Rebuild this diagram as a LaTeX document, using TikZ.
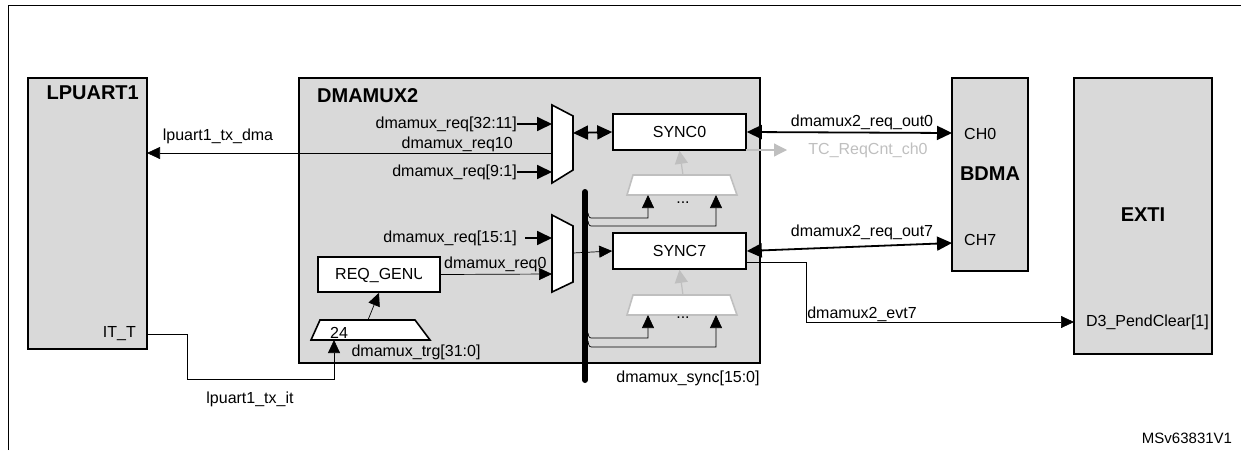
\documentclass[tikz,border=0pt]{standalone}
\usepackage{fontspec}
\setmainfont{Liberation Sans}
\usetikzlibrary{arrows.meta}
\definecolor{blk}{HTML}{D9D9D9}
\definecolor{gr}{HTML}{BFBFBF}
\begin{document}
\begin{tikzpicture}[x=1pt,y=-1pt,
 box/.style={draw,line width=2pt,fill=blk},
 wbox/.style={draw,line width=1.6pt,fill=white,font=\fontsize{16}{18}\selectfont},
 lbl/.style={font=\fontsize{16}{18}\selectfont,inner sep=0pt},
 ttl/.style={font=\fontsize{20}{22}\selectfont\bfseries,inner sep=0pt},
 sig/.style={line width=0.7pt,-{Triangle[length=13pt,width=12pt]}},
 bsig/.style={line width=1.8pt,{Triangle[length=15pt,width=14pt]}-{Triangle[length=15pt,width=14pt]}},
 isig/.style={line width=1.8pt,-{Triangle[length=15pt,width=14pt]}},
 gsig/.style={gr,line width=1.2pt,-{Triangle[length=13pt,width=13pt]}},
 mux/.style={draw,line width=1.6pt,fill=white},
 gmux/.style={draw=gr,line width=1.6pt,fill=white}]
\useasboundingbox (0,0) rectangle (1241,450);
\draw[line width=1pt] (8,450) -- (8,5) -- (1241,5);
% blocks
\draw[box] (28,78) rectangle (147,349);
\node[ttl,anchor=north east] at (139,86) {LPUART1};
\node[lbl,anchor=base east] (itt) at (136,337) {IT\_T};
\coordinate (ittp) at (147,334);
\draw[box] (299,78) rectangle (760,363);
\node[ttl,anchor=north west] at (317,88) {DMAMUX2};
\draw[box] (952,78) rectangle (1028,271);
\node[ttl] at (990,174) {BDMA};
\node[lbl,anchor=west] at (964,134) {CH0};
\node[lbl,anchor=west] at (964,240) {CH7};
\draw[box] (1074,78) rectangle (1212,354);
\node[ttl] at (1143,215) {EXTI};
\node[lbl,anchor=east] at (1209,322) {D3\_PendClear[1]};
% muxes
\draw[mux] (552,105) -- (573,116) -- (573,170) -- (552,183) -- cycle;
\draw[mux] (552,215) -- (573,226) -- (573,282) -- (552,292) -- cycle;
\node[wbox,minimum width=133pt,minimum height=36pt] (s0) at (679.5,132) {SYNC0};
\node[wbox,minimum width=133pt,minimum height=36pt] (s7) at (679.5,251) {SYNC7};
\node[wbox,minimum width=122pt,minimum height=35pt] (rg) at (379,274.5) {};
\begin{scope}
\clip (320,258) rectangle (421,291);
\node[lbl,anchor=west] at (335,275) {REQ\_GENU};
\end{scope}
% trigger mux
\draw[mux] (311,340) -- (320,320) -- (415,320) -- (430,340) -- cycle;
\node[lbl,anchor=west] at (330,333) {24};
\draw[sig] (368,320) -- (rg.south);
% grey sync muxes
\draw[gmux] (633,175) -- (730,175) -- (737,195) -- (627,195) -- cycle;
\draw[gmux] (633,295) -- (730,295) -- (737,315) -- (627,315) -- cycle;
\node[lbl] at (683,203) {...};
\node[lbl] at (683,318) {...};
\draw[gsig] (683,175) -- (s0.south);
\draw[gsig] (683,295) -- (s7.south);
% bus
\draw[line width=6pt,line cap=round] (585,192) -- (585,380);
\foreach \ya/\yb/\xx/\yt in {213/218/648/195,221/226/716/195,333/338/648/315,341/347/716/315}{
  \draw[sig] (588,\ya) .. controls (589,\yb) .. (594,\yb) -- (\xx,\yb) -- (\xx,\yt);}
% inputs
\node[lbl,anchor=east] (r1) at (517,124) {dmamux\_req[32:11]};
\draw[isig] (r1.east) -- (552,124);
\node[lbl,anchor=east] (r3) at (517,172) {dmamux\_req[9:1]};
\draw[isig] (r3.east) -- (552,172);
\node[lbl,anchor=base east] at (513,148) {dmamux\_req10};
\node[lbl,anchor=east] (r4) at (517,238) {dmamux\_req[15:1]};
\draw[isig] (525,238) -- (552,238);
\draw[sig] (rg.east) -- (552,274);
\node[lbl,anchor=base west] at (444,268) {dmamux\_req0};
\draw[sig] (552,153) -- (147,153);
\node[lbl] at (218,136) {lpuart1\_tx\_dma};
\draw[bsig] (573,133) -- (s0.west);
\draw[sig] (573,253) -- (s7.west);
% outputs
\draw[bsig] (s0.east) -- (952,133);
\node[lbl,anchor=base] at (862,126) {dmamux2\_req\_out0};
\draw[gsig] (746,150) -- (787,150);
\node[lbl,text=gr] at (868,150) {TC\_ReqCnt\_ch0};
\draw[bsig] (s7.east) -- (952,243);
\node[lbl,anchor=base] at (862,236) {dmamux2\_req\_out7};
\draw[sig] (746,262) -- (806,262) -- (806,322) -- (1074,322);
\node[lbl,anchor=base] at (862,318) {dmamux2\_evt7};
\draw[sig] (ittp) -- (187,334) -- (187,379) -- (334,379) -- (334,340);
\node[lbl] at (250,399) {lpuart1\_tx\_it};
\node[lbl] at (416,352) {dmamux\_trg[31:0]};
\node[lbl] at (688,378) {dmamux\_sync[15:0]};
\node[lbl,font=\fontsize{15}{17}\selectfont] at (1187,438) {MSv63831V1};
\end{tikzpicture}
\end{document}
